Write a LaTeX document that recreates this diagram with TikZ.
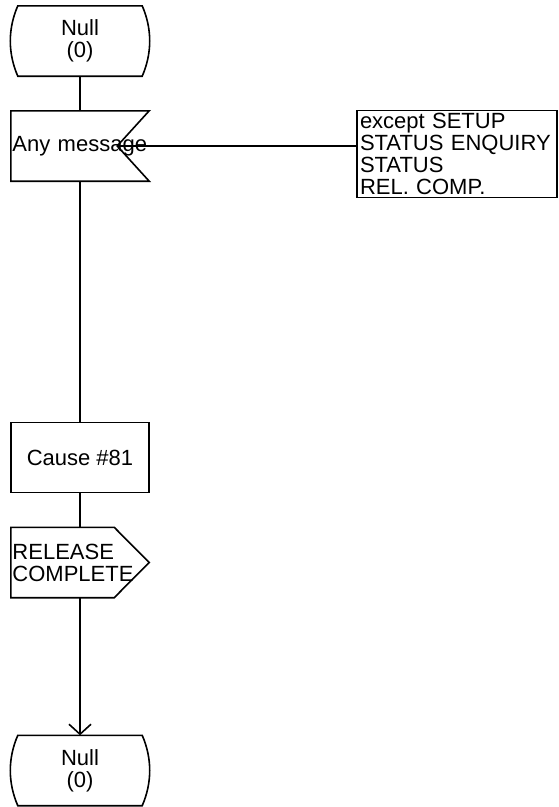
\documentclass[tikz,border=0pt]{standalone}
\usepackage{fontspec}
\setmainfont{Liberation Sans}
\usetikzlibrary{positioning,calc,arrows.meta}

\tikzset{
	sdl/.style={line width=1.6pt, line join=miter},
	thinline/.style={line width=1.2pt},
	sym/.style={align=center, inner sep=0pt, minimum width=138pt, minimum height=70pt,
		font=\fontsize{22}{22}\selectfont},
	symleft/.style={sym, align=left, text width=135pt, inner sep=1.5pt},
	note/.style={draw, thinline, align=left, text width=194pt, inner sep=3pt,
		minimum height=86pt, font=\fontsize{22}{22}\selectfont},
}

\begin{document}
\begin{tikzpicture}[x=1pt, y=-1pt]
	\useasboundingbox (0,0) rectangle (558,807);

	\node[sym] (s0)    at (80, 41)    {Null\\(0)};
	\node[symleft] (in) at (80, 146)  {Any message};
	\node[note] (com)  at (457, 154)  {except SETUP\\STATUS ENQUIRY\\STATUS\\REL. COMP.};
	\node[sym, draw, sdl] (cause) at (80, 457.5) {Cause \#81};
	\node[symleft] (out) at (80, 562.5) {RELEASE\\COMPLETE};
	\node[sym] (s1)    at (80, 770.5) {Null\\(0)};

	\coordinate (notch) at ($(in.east)+(-32,0)$);

	% state symbols
	\draw[sdl] ($(s0.north west)+(7,0)$) -- ($(s0.north east)+(-7,0)$)
		.. controls +(10,23) and +(10,-23) .. ($(s0.south east)+(-7,0)$)
		-- ($(s0.south west)+(7,0)$)
		.. controls +(-10,-23) and +(-10,23) .. ($(s0.north west)+(7,0)$) -- cycle;
	\draw[sdl] ($(s1.north west)+(7,0)$) -- ($(s1.north east)+(-7,0)$)
		.. controls +(10,23) and +(10,-23) .. ($(s1.south east)+(-7,0)$)
		-- ($(s1.south west)+(7,0)$)
		.. controls +(-10,-23) and +(-10,23) .. ($(s1.north west)+(7,0)$) -- cycle;

	% input and output
	\draw[sdl] (in.north west) -- (in.north east) -- (notch) -- (in.south east)
		-- (in.south west) -- cycle;
	\draw[sdl] (out.north west) -- ($(out.north east)+(-35,0)$) -- (out.east)
		-- ($(out.south east)+(-35,0)$) -- (out.south west) -- cycle;

	\draw [sdl] (s0) to (in);
	\draw [sdl] (in) to (cause);
	\draw [sdl] (cause) to (out);
	\draw [sdl, -{Straight Barb[length=10pt, width=22pt]}] (out) to (s1);
	\draw [thinline] (notch) to (notch -| com.west);
\end{tikzpicture}
\end{document}
